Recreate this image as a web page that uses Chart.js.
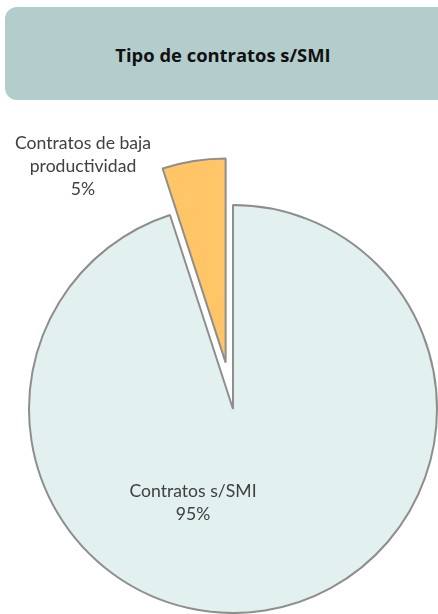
<!DOCTYPE html>
<html lang="es">
<head>
    <meta charset="UTF-8">
    <title>Tipo de contratos s/SMI</title>
    <script src="https://cdn.jsdelivr.net/npm/chart.js"></script>
    <style>
        html, body { margin: 0; padding: 0; background: #fff; }
        body { width: 438px; height: 614px; position: relative; overflow: hidden; }
        .title-box {
            position: absolute; left: 5px; top: 7px; width: 450px; height: 93px;
            background: #b3cdcc; border-radius: 12px;
            display: flex; align-items: center;
        }
        .title-box span {
            width: 440px; text-align: center; margin-left: -2px; margin-top: 2px;
            font: bold 18.4px "Open Sans", "Liberation Sans", sans-serif; color: #111;
        }
        #chart { position: absolute; left: 0; top: 0; }
    </style>
</head>
<body>
    <div class="title-box"><span>Tipo de contratos s/SMI</span></div>
    <canvas id="chart" width="438" height="614"></canvas>

    <script>
        // datos
        const labels = ['Contratos s/SMI', 'Contratos de baja productividad'];
        const values = [95, 5];
        const pctLabels = ['95%', '5%'];

        // estilo / layout
        const colors = ['#e3f0f0', '#ffc566'];
        const explode = [0, 47];
        // etiqueta: lineas y desplazamiento respecto al centro de la tarta
        const labelLines = [['Contratos s/SMI'], ['Contratos de baja', 'productividad']];
        const labelShift = [[-40, 94], [-150, -243]];

        // separa la porcion (pie explotado)
        const explodePlugin = {
            id: 'explode',
            afterDatasetUpdate(chart, args) {
                args.meta.data.forEach((arc, i) => {
                    const d = explode[i] || 0;
                    if (!d) return;
                    const a = (arc.startAngle + arc.endAngle) / 2;
                    arc.x += Math.cos(a) * d;
                    arc.y += Math.sin(a) * d;
                });
            }
        };

        // etiquetas de datos
        const labelPlugin = {
            id: 'pieLabels',
            afterDatasetsDraw(chart) {
                const ctx = chart.ctx;
                const meta = chart.getDatasetMeta(0);
                const cx = meta.data[0].x, cy = meta.data[0].y;
                ctx.save();
                ctx.font = '17.6px Lato, "Liberation Sans", sans-serif';
                ctx.fillStyle = '#404040';
                ctx.textAlign = 'center';
                ctx.textBaseline = 'middle';
                meta.data.forEach((arc, i) => {
                    const lines = labelLines[i].concat(pctLabels[i]);
                    const x = cx + labelShift[i][0];
                    const y0 = cy + labelShift[i][1] - (lines.length - 1) * 23 / 2;
                    lines.forEach((t, k) => ctx.fillText(t, x, y0 + k * 23));
                });
                ctx.restore();
            }
        };

        new Chart(document.getElementById('chart'), {
            type: 'pie',
            data: {
                labels: labels,
                datasets: [{
                    data: values,
                    backgroundColor: colors,
                    borderColor: '#8e8e8e',
                    borderWidth: 2
                }]
            },
            options: {
                responsive: false,
                animation: false,
                radius: 204,
                layout: { padding: { left: 28, top: 204, right: 0, bottom: 0 } },
                plugins: {
                    legend: { display: false },
                    tooltip: { enabled: false }
                }
            },
            plugins: [explodePlugin, labelPlugin]
        });
    </script>
</body>
</html>
